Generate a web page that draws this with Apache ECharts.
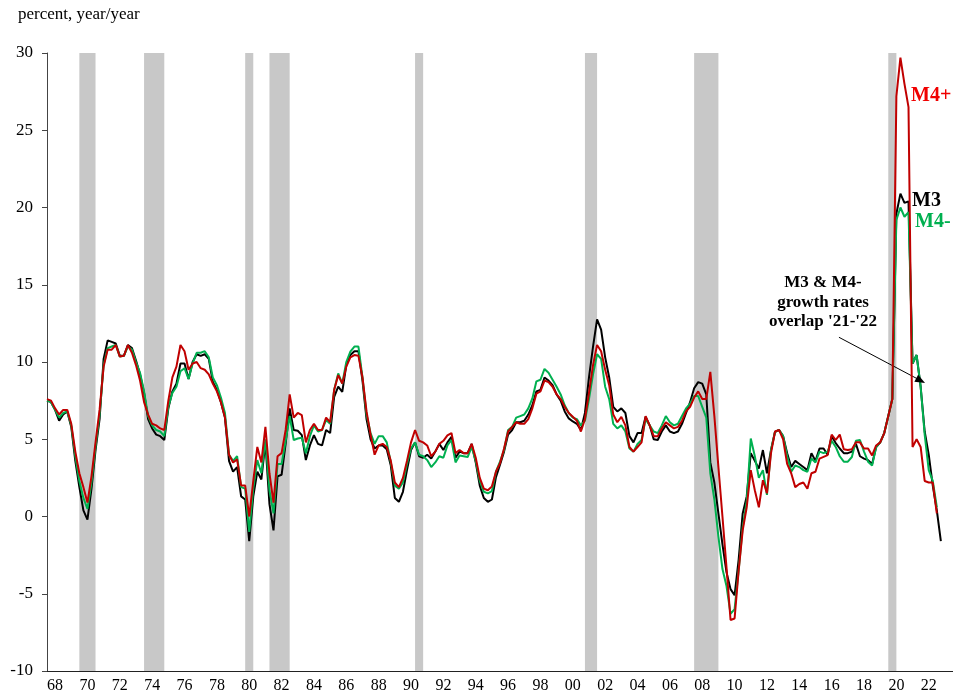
<!DOCTYPE html>
<html>
<head>
<meta charset="utf-8">
<script src="https://cdn.jsdelivr.net/npm/echarts@6/dist/echarts.min.js"></script>
<style>
  html, body { margin: 0; padding: 0; background: #fff; }
  #chart { width: 953px; height: 698px; }
</style>
</head>
<body>
<div id="chart"></div>
<script>
// year bands on the x axis, labels shown every other year
var yearLabels = ['68','69','70','71','72','73','74','75','76','77','78','79','80','81','82','83','84','85','86','87',
  '88','89','90','91','92','93','94','95','96','97','98','99','00','01','02','03','04','05','06','07',
  '08','09','10','11','12','13','14','15','16','17','18','19','20','21','22','23'];

// quarterly growth, percent y/y; first point sits at the start of 1968
var startYear = 1968;
var m3 = [7.5,
  7.4, 6.9, 6.2, 6.6,   6.8, 5.8, 3.6, 1.9,   0.4, -0.2, 1.8, 4.3,   6.3, 10.2, 11.4, 11.3,
  11.2, 10.4, 10.4, 11.1,   10.9, 10.1, 9.2, 8.0,   6.3, 5.7, 5.3, 5.2,   4.95, 7.0, 8.1, 8.6,
  9.9, 9.9, 8.9, 10.0,   10.5, 10.4, 10.5, 10.2,   8.7, 8.2, 7.4, 6.4,   3.6, 2.9, 3.2, 1.3,
  1.1, -1.6, 1.3, 2.9,   2.4, 4.8, 0.8, -0.9,   2.6, 2.7, 4.7, 7.0,   5.6, 5.55, 5.27, 3.65,
  4.6, 5.27, 4.7, 4.6,   5.6, 5.4, 7.75, 8.4,   8.07, 9.8, 10.45, 10.7,   10.7, 8.8, 6.3, 5.0,
  4.4, 4.6, 4.6, 4.35,   3.3, 1.2, 0.95, 1.6,   3.0, 4.3, 4.8, 3.9,   3.8, 4.0, 3.75, 4.2,
  4.7, 4.3, 4.8, 5.15,   3.8, 4.2, 4.1, 4.1,   4.7, 3.5, 2.0, 1.2,   0.95, 1.1, 2.55, 3.35,
  4.2, 5.3, 5.6, 6.1,   6.1, 6.2, 6.6, 7.2,   8.1, 8.2, 9.0, 8.8,   8.5, 7.9, 7.5, 6.8,
  6.35, 6.15, 6.0, 5.6,   6.7, 9.0, 11.0, 12.76,   12.1, 10.3, 9.0, 7.1,   6.8, 7.0, 6.7, 5.2,
  4.8, 5.4, 5.4, 6.45,   5.9, 5.0, 4.95, 5.5,   5.9, 5.5, 5.4, 5.5,   6.0, 6.7, 7.4, 8.3,
  8.7, 8.6, 7.9, 3.5,   2.2, 0.2, -1.8, -3.6,   -4.7, -5.1, -2.8, 0.2,   1.3, 4.1, 3.6, 3.1,
  4.3, 2.8, 4.3, 5.48,   5.6, 5.2, 4.1, 3.2,   3.6, 3.4, 3.2, 3.0,   4.1, 3.6, 4.4, 4.4,
  4.0, 5.2, 4.75, 4.4,   4.1, 4.1, 4.2, 4.7,   3.9, 3.75, 3.65, 3.4,   4.5, 4.8, 5.4, 6.5,
  7.6, 19.6, 20.9, 20.3,   20.4, 9.9, 10.45, 8.4,   5.5, 4.0, 2.0, 0.4,   -1.6];

var m4minus = [7.5,
  7.4, 6.9, 6.4, 6.7,   6.8, 5.9, 3.9, 2.3,   1.2, 0.5, 2.2, 4.5,   6.6, 9.8, 10.9, 11.0,
  11.1, 10.35, 10.4, 11.0,   10.8, 10.0, 9.3, 8.1,   6.5, 5.9, 5.6, 5.5,   5.2, 7.1, 8.0, 8.4,
  9.4, 9.6, 8.9, 9.9,   10.6, 10.6, 10.7, 10.3,   9.0, 8.5, 7.7, 6.7,   4.0, 3.6, 3.9, 1.9,
  1.8, -1.0, 1.8, 3.65,   2.8, 5.0, 1.7, 0.2,   3.4, 3.4, 4.9, 6.5,   4.95, 5.05, 5.1, 4.1,
  5.2, 5.9, 5.5, 5.6,   6.24, 6.0, 8.2, 9.26,   8.6, 10.0, 10.67, 11.0,   11.0, 9.0, 6.6, 5.4,
  4.7, 5.2, 5.2, 4.8,   3.5, 2.0, 1.8, 2.2,   3.4, 4.4, 4.8, 4.0,   3.9, 3.65, 3.2, 3.5,
  3.9, 3.8, 4.6, 4.95,   3.5, 3.95, 3.9, 3.85,   4.5, 3.6, 2.3, 1.6,   1.5, 1.65, 2.9, 3.55,
  4.3, 5.6, 5.8, 6.4,   6.5, 6.6, 7.0, 7.64,   8.75, 8.85, 9.55, 9.3,   8.85, 8.4, 7.9, 7.2,
  6.7, 6.4, 6.3, 5.9,   6.2, 7.6, 9.2, 10.5,   10.2, 8.4, 7.6, 6.0,   5.7, 5.9, 5.5, 4.4,
  4.2, 4.7, 4.95, 6.3,   5.9, 5.5, 5.4, 5.9,   6.5, 6.1, 5.9, 6.0,   6.5, 7.0, 7.3, 7.8,
  7.8, 7.1, 6.4, 2.8,   1.1, -1.3, -3.4, -4.5,   -6.3, -6.0, -3.5, -0.7,   1.0, 5.05, 3.9, 2.5,
  3.0, 1.4, 4.3, 5.48,   5.6, 5.2, 3.9, 2.9,   3.3, 3.2, 3.0, 2.9,   3.75, 3.5, 4.2, 4.1,
  4.2, 4.9, 4.5, 3.9,   3.55, 3.55, 3.85, 4.9,   4.95, 4.2, 3.55, 3.3,   4.5, 4.8, 5.4, 6.5,
  7.6, 19.2, 20.0, 19.4,   19.7, 9.9, 10.45, 8.4,   5.3, 3.0, 2.3, 0.6];

var m4plus = [7.6,
  7.5, 7.0, 6.6, 6.9,   6.9, 6.0, 4.2, 2.8,   1.9, 0.9, 2.6, 4.8,   6.9, 9.7, 10.8, 10.8,
  11.1, 10.35, 10.4, 11.1,   10.6, 9.8, 8.8, 7.4,   6.6, 6.0, 5.9, 5.7,   5.6, 7.5, 9.0, 9.7,
  11.1, 10.7, 9.5, 9.9,   10.0, 9.6, 9.5, 9.2,   8.6, 8.1, 7.4, 6.4,   4.0, 3.5, 3.7, 2.0,
  2.0, 0.0, 2.3, 4.5,   3.5, 5.8, 2.8, 0.9,   3.9, 4.1, 5.6, 7.9,   6.4, 6.7, 6.56, 4.8,
  5.6, 6.0, 5.6, 5.6,   6.4, 6.1, 8.2, 9.15,   8.6, 9.7, 10.3, 10.45,   10.4, 9.0, 6.8, 5.3,
  4.0, 4.6, 4.7, 4.5,   3.6, 2.2, 1.9, 2.5,   3.6, 4.8, 5.6, 4.9,   4.8, 4.6, 3.9, 4.2,
  4.7, 4.9, 5.25, 5.4,   4.1, 4.3, 4.1, 4.1,   4.7, 3.8, 2.5, 1.8,   1.7, 1.95, 2.9, 3.45,
  4.4, 5.5, 5.8, 6.1,   6.0, 6.0, 6.3, 7.0,   7.95, 8.1, 8.8, 8.7,   8.4, 7.9, 7.6, 7.1,
  6.7, 6.45, 6.2, 5.5,   6.3, 8.0, 9.8, 11.1,   10.7, 9.5, 8.5, 6.6,   6.1, 6.45, 5.9, 4.5,
  4.2, 4.5, 4.8, 6.5,   5.9, 5.2, 5.2, 5.7,   6.1, 5.9, 5.7, 5.8,   6.2, 6.8, 7.1, 7.7,
  8.1, 7.6, 7.6, 9.36,   6.5, 3.2, 0.0, -3.3,   -6.7, -6.6, -3.5, -0.9,   0.6, 3.0, 1.7, 0.6,
  2.35, 1.5, 4.1, 5.5,   5.6, 5.0, 3.4, 2.8,   1.9, 2.1, 2.2, 1.8,   2.8, 2.9, 3.75, 3.86,
  3.97, 5.3, 4.95, 5.3,   4.35, 4.3, 4.35, 4.8,   4.8, 4.4, 4.4, 3.95,   4.6, 4.8, 5.4, 6.5,
  7.6, 27.2, 29.7, 28.0,   26.5, 4.5, 5.0, 4.5,   2.3, 2.2, 2.2, 0.2];

// NBER recessions, shaded from peak quarter to trough quarter
var recessionStart = [1970.0, 1974.0, 1980.25, 1981.75, 1990.75, 2001.25, 2008.0, 2020.0];
var recessionEnd   = [1971.0, 1975.25, 1980.75, 1983.0, 1991.25, 2002.0, 2009.5, 2020.5];

var yTicks = { min: -10, max: 30, step: 5 };

function toPoints(values) {
    var out = [];
    for (var i = 0; i < values.length; i++) {
        out.push([startYear + i / 4, values[i]]);
    }
    return out;
}

var serif = '"Liberation Serif", "Times New Roman", serif';
var myChart = echarts.init(document.getElementById('chart'));

var bands = [];
for (var k = 0; k < recessionStart.length; k++) {
    bands.push([{ xAxis: recessionStart[k] }, { xAxis: recessionEnd[k] }]);
}

option = {
    animation: false,
    backgroundColor: '#fff',
    grid: { left: 47, right: 0, top: 53, bottom: 27 },
    xAxis: [
        {
            type: 'category',
            data: yearLabels,
            boundaryGap: true,
            axisLine: { onZero: false, lineStyle: { color: '#222', width: 1 } },
            axisTick: { interval: 0, alignWithLabel: false, length: 5, lineStyle: { color: '#222' } },
            axisLabel: { interval: 1, margin: 7, color: '#000', fontFamily: serif, fontSize: 16 },
            splitLine: { show: false }
        },
        {
            type: 'value',
            min: 1968,
            max: 2024,
            show: false,
            axisLine: { onZero: false }
        }
    ],
    yAxis: {
        type: 'value',
        min: yTicks.min,
        max: yTicks.max,
        interval: yTicks.step,
        axisLine: { show: true, lineStyle: { color: '#444', width: 1 } },
        axisTick: { show: true, length: 5, lineStyle: { color: '#444' } },
        axisLabel: { margin: 14, color: '#000', fontFamily: serif, fontSize: 17 },
        splitLine: { show: false }
    },
    series: [
        {
            name: 'M3',
            type: 'line',
            xAxisIndex: 1,
            data: toPoints(m3),
            showSymbol: false,
            lineStyle: { color: '#000', width: 2 },
            z: 3,
            markArea: {
                silent: true,
                itemStyle: { color: '#c8c8c8', opacity: 1 },
                data: bands
            }
        },
        {
            name: 'M4-',
            type: 'line',
            xAxisIndex: 1,
            data: toPoints(m4minus),
            showSymbol: false,
            lineStyle: { color: '#00b050', width: 2 },
            z: 4,
            markLine: {
                silent: true,
                symbol: ['none', 'triangle'],
                symbolSize: [8, 10],
                label: { show: false },
                lineStyle: { color: '#000', width: 1, type: 'solid' },
                data: [[{ coord: [2016.95, 11.6] }, { coord: [2022.0, 8.8] }]]
            }
        },
        {
            name: 'M4+',
            type: 'line',
            xAxisIndex: 1,
            data: toPoints(m4plus),
            showSymbol: false,
            lineStyle: { color: '#c00000', width: 2 },
            z: 5
        }
    ],
    graphic: [
        { type: 'text', left: 18, top: 6, style: { text: 'percent, year/year', font: '17px ' + serif, fill: '#000' } },
        { type: 'text', x: 911, y: 96, style: { text: 'M4+', font: 'bold 20px ' + serif, fill: '#f00000', verticalAlign: 'middle' } },
        { type: 'text', x: 912, y: 201, style: { text: 'M3', font: 'bold 20px ' + serif, fill: '#000', verticalAlign: 'middle' } },
        { type: 'text', x: 915, y: 222, style: { text: 'M4-', font: 'bold 20px ' + serif, fill: '#00b050', verticalAlign: 'middle' } },
        { type: 'text', x: 823, y: 273, style: { text: "M3 & M4-\ngrowth rates\noverlap '21-'22", font: 'bold 17px ' + serif, fill: '#000', align: 'center', verticalAlign: 'top', lineHeight: 19.5 } }
    ]
};
myChart.setOption(option);
</script>
</body>
</html>
